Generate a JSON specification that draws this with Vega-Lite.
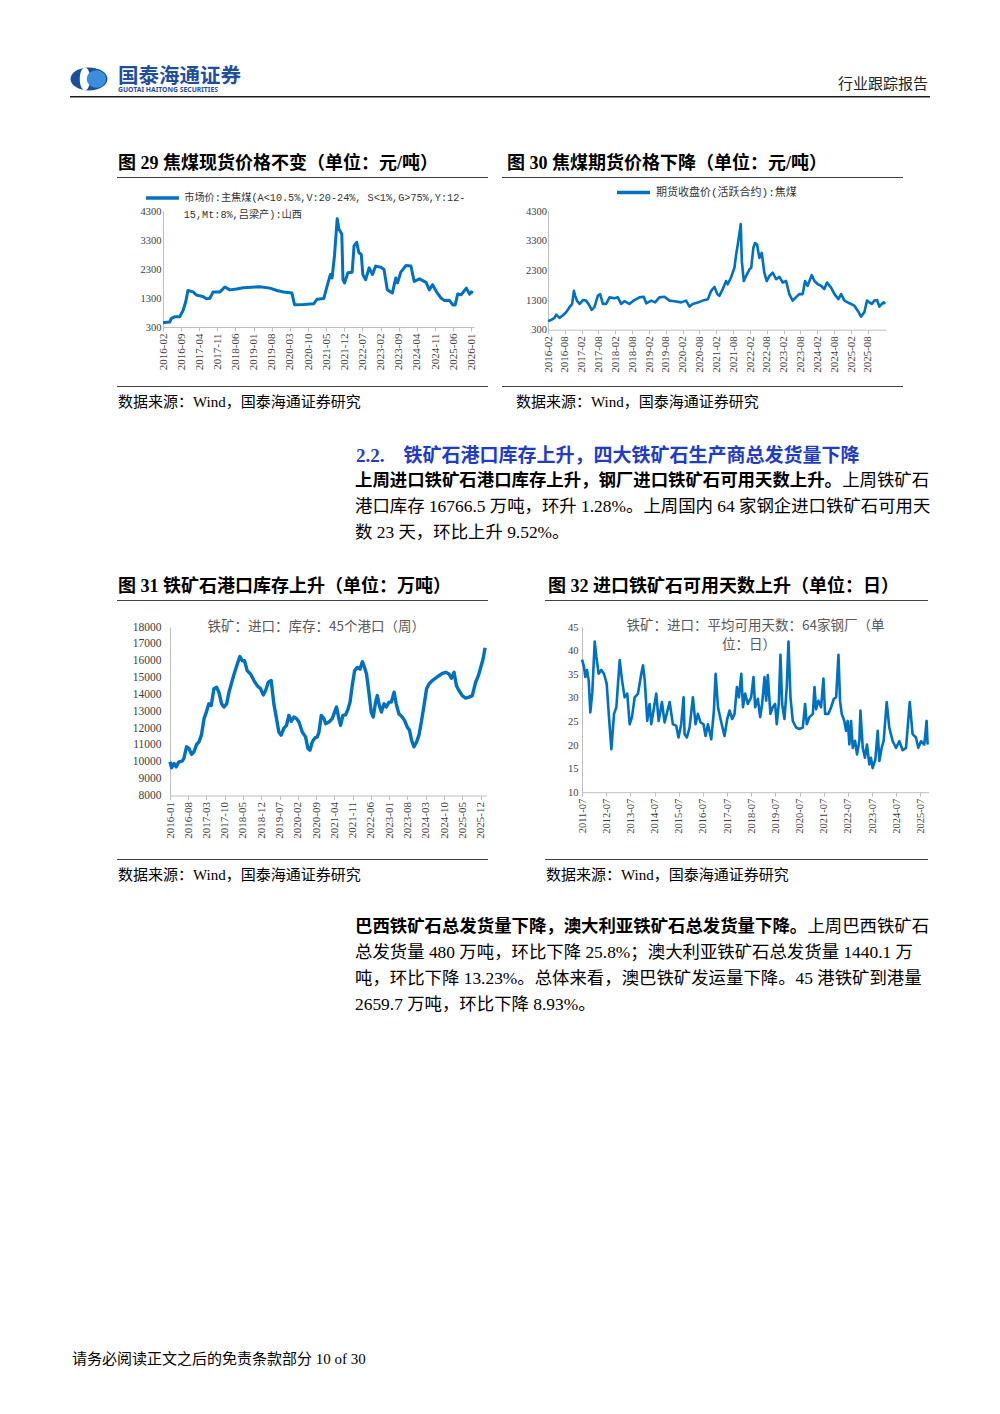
{
"$schema": "https://vega.github.io/schema/vega-lite/v6.json",
"background": "#ffffff",
"padding": 0,
"spacing": 0,
"bounds": "full",
"resolve": {"scale": {"color": "independent"}, "legend": {"color": "independent"}},
"config": {
  "view": {"stroke": null},
  "concat": {"spacing": 0},
  "axis": {"grid": false, "domainColor": "#bfbfbf", "domainWidth": 1, "tickColor": "#bfbfbf", "labelFont": "Liberation Serif", "labelColor": "#404040", "labelFlush": false, "labelOverlap": false},
  "axisX": {"tickSize": 4, "labelAngle": 270, "labelAlign": "right", "labelBaseline": "middle", "labelPadding": 2, "labelExpr": "utcFormat(datum.value, '%Y-%m')"},
  "axisY": {"ticks": false, "labelPadding": 3, "format": "d"},
  "legend": {"padding": 0, "labelLimit": 800, "titleLimit": 800, "symbolType": "stroke", "titleFontWeight": "normal", "labelColor": "#333333", "titleColor": "#333333", "rowPadding": 0, "offset": 0}
},
"datasets": {
  "c29": [
    {"d":"2016-02-01","v":450},{"d":"2016-03-15","v":460},{"d":"2016-04-20","v":470},{"d":"2016-05-07","v":590},{"d":"2016-06-15","v":650},{"d":"2016-08-15","v":650},{"d":"2016-09-25","v":880},{"d":"2016-10-25","v":1170},{"d":"2016-11-20","v":1560},{"d":"2017-01-20","v":1510},{"d":"2017-02-28","v":1400},{"d":"2017-05-15","v":1350},{"d":"2017-06-25","v":1270},{"d":"2017-08-05","v":1290},{"d":"2017-09-12","v":1510},{"d":"2017-12-01","v":1510},{"d":"2018-01-28","v":1680},{"d":"2018-03-28","v":1580},{"d":"2018-06-15","v":1610},{"d":"2018-09-01","v":1650},{"d":"2019-03-15","v":1690},{"d":"2019-07-12","v":1640},{"d":"2019-10-01","v":1560},{"d":"2019-12-18","v":1510},{"d":"2020-03-25","v":1470},{"d":"2020-04-25","v":1070},{"d":"2020-08-10","v":1080},{"d":"2020-12-05","v":1100},{"d":"2021-01-15","v":1260},{"d":"2021-04-03","v":1280},{"d":"2021-05-12","v":1700},{"d":"2021-06-20","v":2110},{"d":"2021-07-10","v":1990},{"d":"2021-08-07","v":2750},{"d":"2021-09-08","v":4030},{"d":"2021-09-28","v":3680},{"d":"2021-11-01","v":3510},{"d":"2021-11-15","v":1930},{"d":"2021-12-03","v":1820},{"d":"2022-01-12","v":2170},{"d":"2022-03-03","v":2190},{"d":"2022-03-25","v":3100},{"d":"2022-04-25","v":3220},{"d":"2022-05-20","v":2870},{"d":"2022-06-18","v":2800},{"d":"2022-07-06","v":2110},{"d":"2022-08-08","v":1930},{"d":"2022-09-18","v":2340},{"d":"2022-10-28","v":2110},{"d":"2022-12-03","v":2400},{"d":"2023-02-03","v":2360},{"d":"2023-03-12","v":2280},{"d":"2023-04-20","v":1580},{"d":"2023-06-18","v":1470},{"d":"2023-07-28","v":1990},{"d":"2023-08-18","v":1820},{"d":"2023-09-25","v":2190},{"d":"2023-11-25","v":2420},{"d":"2024-01-22","v":2400},{"d":"2024-03-01","v":1870},{"d":"2024-05-01","v":1960},{"d":"2024-07-18","v":1840},{"d":"2024-08-25","v":1580},{"d":"2024-10-03","v":1760},{"d":"2024-11-12","v":1540},{"d":"2025-01-12","v":1290},{"d":"2025-02-20","v":1210},{"d":"2025-04-18","v":1220},{"d":"2025-05-28","v":1060},{"d":"2025-06-25","v":1060},{"d":"2025-07-25","v":1440},{"d":"2025-09-03","v":1410},{"d":"2025-11-03","v":1640},{"d":"2025-12-12","v":1430},{"d":"2026-01-01","v":1510},{"d":"2026-01-20","v":1470}
  ],
  "c30": [
    {"d":"2016-02-01","v":590},{"d":"2016-03-07","v":630},{"d":"2016-04-12","v":700},{"d":"2016-04-30","v":810},{"d":"2016-06-05","v":700},{"d":"2016-07-10","v":780},{"d":"2016-08-16","v":890},{"d":"2016-09-22","v":1060},{"d":"2016-10-20","v":1170},{"d":"2016-11-08","v":1610},{"d":"2016-11-22","v":1440},{"d":"2016-12-14","v":1260},{"d":"2017-01-09","v":1170},{"d":"2017-02-15","v":1300},{"d":"2017-03-20","v":1280},{"d":"2017-04-15","v":1170},{"d":"2017-05-20","v":970},{"d":"2017-06-19","v":1060},{"d":"2017-07-25","v":1440},{"d":"2017-08-20","v":1500},{"d":"2017-09-18","v":1170},{"d":"2017-10-24","v":1170},{"d":"2017-11-30","v":1390},{"d":"2018-01-23","v":1360},{"d":"2018-02-28","v":1390},{"d":"2018-04-04","v":1170},{"d":"2018-05-10","v":1260},{"d":"2018-07-03","v":1170},{"d":"2018-08-27","v":1300},{"d":"2018-10-20","v":1390},{"d":"2018-12-06","v":1410},{"d":"2019-01-02","v":1190},{"d":"2019-02-25","v":1280},{"d":"2019-04-08","v":1220},{"d":"2019-05-24","v":1390},{"d":"2019-07-18","v":1410},{"d":"2019-09-11","v":1280},{"d":"2019-11-04","v":1260},{"d":"2020-01-16","v":1220},{"d":"2020-03-09","v":1280},{"d":"2020-04-15","v":1080},{"d":"2020-05-20","v":1170},{"d":"2020-07-14","v":1220},{"d":"2020-09-07","v":1280},{"d":"2020-11-01","v":1330},{"d":"2020-12-06","v":1610},{"d":"2021-01-12","v":1740},{"d":"2021-02-10","v":1500},{"d":"2021-03-05","v":1440},{"d":"2021-04-11","v":1670},{"d":"2021-05-17","v":1940},{"d":"2021-06-04","v":1830},{"d":"2021-07-10","v":2060},{"d":"2021-08-16","v":2390},{"d":"2021-09-03","v":2830},{"d":"2021-09-21","v":3170},{"d":"2021-10-12","v":3610},{"d":"2021-10-23","v":3860},{"d":"2021-11-04","v":2610},{"d":"2021-11-25","v":1940},{"d":"2021-12-20","v":2110},{"d":"2022-01-26","v":2330},{"d":"2022-02-14","v":2390},{"d":"2022-03-09","v":3060},{"d":"2022-03-27","v":3220},{"d":"2022-04-18","v":3170},{"d":"2022-05-13","v":2720},{"d":"2022-06-08","v":2890},{"d":"2022-07-06","v":2220},{"d":"2022-08-01","v":1940},{"d":"2022-08-30","v":2110},{"d":"2022-10-05","v":2220},{"d":"2022-11-11","v":2000},{"d":"2022-12-16","v":2080},{"d":"2023-01-22","v":1890},{"d":"2023-02-27","v":1940},{"d":"2023-04-03","v":1500},{"d":"2023-05-09","v":1280},{"d":"2023-06-14","v":1390},{"d":"2023-07-20","v":1500},{"d":"2023-08-26","v":1500},{"d":"2023-09-21","v":1940},{"d":"2023-10-19","v":1780},{"d":"2023-12-02","v":2140},{"d":"2024-01-01","v":1940},{"d":"2024-02-06","v":1830},{"d":"2024-03-12","v":1780},{"d":"2024-04-17","v":1670},{"d":"2024-05-16","v":1890},{"d":"2024-06-29","v":1720},{"d":"2024-08-05","v":1500},{"d":"2024-09-17","v":1330},{"d":"2024-10-16","v":1500},{"d":"2024-11-21","v":1280},{"d":"2025-01-15","v":1190},{"d":"2025-03-09","v":1110},{"d":"2025-04-14","v":940},{"d":"2025-05-20","v":740},{"d":"2025-06-25","v":890},{"d":"2025-07-24","v":1280},{"d":"2025-08-19","v":1220},{"d":"2025-09-14","v":1170},{"d":"2025-10-12","v":1280},{"d":"2025-11-10","v":1300},{"d":"2025-12-05","v":1080},{"d":"2026-01-01","v":1170},{"d":"2026-01-22","v":1220},{"d":"2026-02-06","v":1170}
  ],
  "c31": [
    {"d":"2016-01-01","v":10000},{"d":"2016-01-20","v":9650},{"d":"2016-02-16","v":9900},{"d":"2016-03-13","v":9700},{"d":"2016-04-14","v":10000},{"d":"2016-05-22","v":10040},{"d":"2016-06-11","v":10200},{"d":"2016-07-12","v":10890},{"d":"2016-08-09","v":10790},{"d":"2016-09-09","v":10440},{"d":"2016-10-06","v":10590},{"d":"2016-11-07","v":11030},{"d":"2016-12-04","v":11180},{"d":"2017-01-01","v":11580},{"d":"2017-02-01","v":12560},{"d":"2017-02-28","v":12950},{"d":"2017-03-29","v":13440},{"d":"2017-04-26","v":13340},{"d":"2017-05-27","v":14330},{"d":"2017-06-27","v":14420},{"d":"2017-07-24","v":14130},{"d":"2017-08-25","v":13440},{"d":"2017-09-21","v":13250},{"d":"2017-10-22","v":13440},{"d":"2017-11-19","v":14130},{"d":"2017-12-27","v":14820},{"d":"2018-01-24","v":15310},{"d":"2018-02-24","v":15800},{"d":"2018-03-26","v":16250},{"d":"2018-04-22","v":16000},{"d":"2018-05-19","v":16000},{"d":"2018-06-19","v":15410},{"d":"2018-07-28","v":15210},{"d":"2018-09-06","v":14820},{"d":"2018-10-14","v":14520},{"d":"2018-11-23","v":14330},{"d":"2018-12-24","v":13970},{"d":"2019-01-20","v":14230},{"d":"2019-02-20","v":14720},{"d":"2019-03-26","v":14820},{"d":"2019-04-26","v":13440},{"d":"2019-05-27","v":12560},{"d":"2019-06-23","v":11770},{"d":"2019-07-20","v":11580},{"d":"2019-08-21","v":12000},{"d":"2019-09-21","v":12160},{"d":"2019-10-18","v":12750},{"d":"2019-11-15","v":12400},{"d":"2019-12-16","v":12660},{"d":"2020-01-16","v":12560},{"d":"2020-02-13","v":12360},{"d":"2020-03-22","v":11770},{"d":"2020-04-30","v":11480},{"d":"2020-05-27","v":10790},{"d":"2020-06-20","v":10690},{"d":"2020-07-17","v":11180},{"d":"2020-08-18","v":11420},{"d":"2020-09-14","v":11480},{"d":"2020-10-03","v":11770},{"d":"2020-10-30","v":12750},{"d":"2020-12-01","v":12560},{"d":"2020-12-20","v":12260},{"d":"2021-01-28","v":12360},{"d":"2021-03-07","v":12560},{"d":"2021-04-03","v":12950},{"d":"2021-04-26","v":13250},{"d":"2021-05-23","v":12560},{"d":"2021-06-12","v":12160},{"d":"2021-07-09","v":12750},{"d":"2021-08-10","v":12790},{"d":"2021-09-06","v":13110},{"d":"2021-09-30","v":13540},{"d":"2021-10-26","v":14520},{"d":"2021-11-23","v":15410},{"d":"2021-12-24","v":15600},{"d":"2022-01-25","v":15500},{"d":"2022-02-21","v":15940},{"d":"2022-03-18","v":15600},{"d":"2022-04-11","v":15210},{"d":"2022-05-08","v":14130},{"d":"2022-06-04","v":12950},{"d":"2022-06-28","v":12660},{"d":"2022-07-25","v":13540},{"d":"2022-08-14","v":13930},{"d":"2022-09-07","v":13340},{"d":"2022-10-01","v":12950},{"d":"2022-11-01","v":13440},{"d":"2022-11-28","v":13250},{"d":"2022-12-29","v":13540},{"d":"2023-01-25","v":13540},{"d":"2023-02-26","v":14130},{"d":"2023-03-23","v":13440},{"d":"2023-04-23","v":12850},{"d":"2023-06-01","v":12660},{"d":"2023-06-28","v":12460},{"d":"2023-07-29","v":12070},{"d":"2023-08-25","v":11870},{"d":"2023-09-18","v":11280},{"d":"2023-10-15","v":10890},{"d":"2023-11-16","v":11180},{"d":"2023-12-13","v":11580},{"d":"2024-01-10","v":12360},{"d":"2024-02-10","v":13340},{"d":"2024-03-11","v":14330},{"d":"2024-04-08","v":14620},{"d":"2024-05-16","v":14820},{"d":"2024-06-24","v":14960},{"d":"2024-08-03","v":15110},{"d":"2024-09-11","v":15250},{"d":"2024-10-19","v":15310},{"d":"2024-11-28","v":15210},{"d":"2024-12-25","v":14960},{"d":"2025-01-25","v":15310},{"d":"2025-02-22","v":14520},{"d":"2025-03-23","v":14230},{"d":"2025-05-01","v":13930},{"d":"2025-06-09","v":13780},{"d":"2025-07-18","v":13840},{"d":"2025-08-26","v":13930},{"d":"2025-10-04","v":14720},{"d":"2025-11-05","v":15110},{"d":"2025-12-02","v":15600},{"d":"2025-12-29","v":16090},{"d":"2026-01-22","v":16766.5}
  ],
  "c32": [
    {"d":"2011-07-01","v":38.1},{"d":"2011-07-31","v":36.6},{"d":"2011-08-20","v":34.4},{"d":"2011-09-15","v":35.9},{"d":"2011-10-10","v":33.7},{"d":"2011-11-04","v":26.9},{"d":"2011-12-04","v":31.2},{"d":"2012-01-09","v":41.9},{"d":"2012-02-03","v":38.7},{"d":"2012-03-08","v":35.1},{"d":"2012-04-18","v":35.9},{"d":"2012-05-28","v":35.1},{"d":"2012-07-08","v":33.0},{"d":"2012-08-12","v":25.9},{"d":"2012-09-17","v":19.1},{"d":"2012-10-27","v":26.6},{"d":"2012-12-01","v":28.0},{"d":"2012-12-26","v":33.0},{"d":"2013-01-21","v":38.0},{"d":"2013-02-25","v":33.7},{"d":"2013-04-05","v":30.1},{"d":"2013-05-15","v":30.9},{"d":"2013-06-20","v":24.4},{"d":"2013-07-25","v":25.9},{"d":"2013-09-04","v":30.1},{"d":"2013-10-24","v":30.9},{"d":"2013-12-13","v":35.1},{"d":"2014-01-08","v":36.9},{"d":"2014-02-03","v":33.7},{"d":"2014-03-13","v":25.1},{"d":"2014-04-17","v":28.7},{"d":"2014-05-12","v":24.4},{"d":"2014-07-27","v":30.9},{"d":"2014-09-01","v":25.1},{"d":"2014-10-21","v":29.1},{"d":"2014-11-30","v":24.8},{"d":"2015-02-14","v":29.1},{"d":"2015-04-04","v":24.4},{"d":"2015-05-24","v":24.1},{"d":"2015-06-28","v":21.6},{"d":"2015-08-08","v":24.4},{"d":"2015-09-13","v":30.1},{"d":"2015-09-28","v":22.3},{"d":"2015-11-02","v":21.6},{"d":"2015-12-12","v":23.7},{"d":"2016-02-01","v":30.1},{"d":"2016-03-11","v":24.4},{"d":"2016-04-16","v":26.6},{"d":"2016-05-26","v":24.8},{"d":"2016-07-10","v":24.4},{"d":"2016-08-10","v":21.9},{"d":"2016-09-15","v":24.4},{"d":"2016-11-04","v":21.2},{"d":"2016-12-14","v":27.3},{"d":"2017-01-09","v":35.1},{"d":"2017-02-14","v":28.0},{"d":"2017-03-24","v":25.5},{"d":"2017-05-23","v":21.9},{"d":"2017-07-03","v":25.5},{"d":"2017-08-08","v":27.3},{"d":"2017-09-17","v":25.5},{"d":"2017-10-22","v":26.6},{"d":"2017-11-27","v":32.3},{"d":"2017-12-27","v":30.1},{"d":"2018-02-01","v":35.1},{"d":"2018-02-26","v":28.0},{"d":"2018-03-31","v":30.9},{"d":"2018-05-10","v":28.7},{"d":"2018-06-30","v":30.1},{"d":"2018-08-04","v":34.4},{"d":"2018-08-29","v":28.0},{"d":"2018-10-09","v":29.8},{"d":"2018-11-13","v":25.9},{"d":"2018-12-13","v":28.7},{"d":"2019-01-18","v":34.4},{"d":"2019-02-12","v":29.4},{"d":"2019-03-08","v":34.8},{"d":"2019-04-17","v":26.6},{"d":"2019-05-22","v":28.0},{"d":"2019-06-27","v":28.7},{"d":"2019-07-22","v":24.4},{"d":"2019-08-21","v":28.7},{"d":"2019-09-16","v":39.1},{"d":"2019-10-11","v":28.7},{"d":"2019-11-15","v":25.5},{"d":"2019-12-20","v":32.3},{"d":"2020-01-15","v":41.9},{"d":"2020-02-14","v":30.1},{"d":"2020-03-20","v":25.1},{"d":"2020-05-09","v":23.7},{"d":"2020-06-28","v":23.4},{"d":"2020-08-18","v":23.7},{"d":"2020-09-22","v":28.7},{"d":"2020-10-17","v":24.4},{"d":"2020-11-27","v":25.9},{"d":"2021-01-17","v":26.6},{"d":"2021-02-11","v":32.3},{"d":"2021-03-07","v":27.6},{"d":"2021-04-12","v":29.4},{"d":"2021-05-21","v":28.0},{"d":"2021-06-26","v":34.1},{"d":"2021-07-21","v":26.6},{"d":"2021-09-10","v":26.6},{"d":"2021-10-20","v":28.0},{"d":"2021-11-30","v":29.8},{"d":"2022-01-04","v":30.1},{"d":"2022-02-08","v":39.1},{"d":"2022-03-04","v":29.4},{"d":"2022-03-29","v":26.6},{"d":"2022-05-08","v":25.1},{"d":"2022-06-03","v":23.0},{"d":"2022-06-28","v":25.1},{"d":"2022-07-23","v":20.1},{"d":"2022-08-17","v":25.1},{"d":"2022-09-12","v":19.4},{"d":"2022-10-17","v":20.9},{"d":"2022-11-16","v":18.0},{"d":"2022-12-21","v":20.9},{"d":"2023-01-06","v":27.3},{"d":"2023-02-10","v":19.4},{"d":"2023-03-15","v":17.3},{"d":"2023-04-15","v":20.1},{"d":"2023-05-20","v":15.9},{"d":"2023-06-14","v":17.3},{"d":"2023-07-09","v":15.1},{"d":"2023-08-19","v":16.9},{"d":"2023-09-24","v":23.0},{"d":"2023-10-19","v":16.6},{"d":"2023-11-23","v":19.4},{"d":"2023-12-23","v":20.9},{"d":"2024-02-07","v":29.1},{"d":"2024-03-17","v":23.7},{"d":"2024-05-07","v":20.8},{"d":"2024-06-27","v":19.4},{"d":"2024-08-16","v":20.8},{"d":"2024-10-05","v":18.9},{"d":"2024-11-25","v":19.4},{"d":"2025-01-20","v":29.1},{"d":"2025-03-04","v":22.3},{"d":"2025-04-24","v":21.6},{"d":"2025-05-29","v":19.4},{"d":"2025-07-09","v":20.8},{"d":"2025-08-28","v":20.1},{"d":"2025-10-02","v":25.1},{"d":"2025-10-17","v":20.1}
  ],
  "p1": [
    {"line":0,"b":"上周进口铁矿石港口库存上升，钢厂进口铁矿石可用天数上升。","r":"上周铁矿石","t":""},
    {"line":1,"b":"","r":"","t":"港口库存 16766.5 万吨，环升 1.28%。上周国内 64 家钢企进口铁矿石可用天"},
    {"line":2,"b":"","r":"","t":"数 23 天，环比上升 9.52%。"}
  ],
  "p2": [
    {"line":0,"b":"巴西铁矿石总发货量下降，澳大利亚铁矿石总发货量下降。","r":"上周巴西铁矿石","t":""},
    {"line":1,"b":"","r":"","t":"总发货量 480 万吨，环比下降 25.8%；澳大利亚铁矿石总发货量 1440.1 万"},
    {"line":2,"b":"","r":"","t":"吨，环比下降 13.23%。总体来看，澳巴铁矿发运量下降。45 港铁矿到港量"},
    {"line":3,"b":"","r":"","t":"2659.7 万吨，环比下降 8.93%。"}
  ],
  "brand": [
    {"line":0,"t":"国泰海通证券"},
    {"line":1,"t":"GUOTAI HAITONG SECURITIES"}
  ]
},
"vconcat": [
  {"width": 1000, "height": 65.25, "data": {"values": []}, "mark": "point"},
  {"hconcat": [
    {"width": 69, "height": 26, "data": {"values": []}, "mark": "point"},
    {"width": 40, "height": 18, "data": {"values": [{"k": "logo"}]}, "layer": [
      {"mark": {"type": "point", "shape": "M-1,0A1,0.62,0,1,1,1,0A1,0.62,0,1,1,-1,0Z", "size": 1369, "filled": true, "color": "#1b4f9c", "opacity": 1, "strokeWidth": 0}},
      {"mark": {"type": "point", "shape": "M-0.5,0A0.28,0.62,0,1,1,0.06,0A0.28,0.62,0,1,1,-0.5,0Z", "size": 1369, "filled": true, "color": "#ffffff", "opacity": 1, "strokeWidth": 0}},
      {"mark": {"type": "point", "shape": "M-0.12,0A0.52,0.47,0,1,1,0.92,0A0.52,0.47,0,1,1,-0.12,0Z", "size": 1369, "filled": true, "color": "#3b8edb", "opacity": 1, "strokeWidth": 0}}
    ]},
    {"width": 9, "height": 26, "data": {"values": []}, "mark": "point"},
    {"width": 130, "height": 26, "data": {"name": "brand"},
     "encoding": {"x": {"datum": 0, "type": "quantitative", "scale": {"domain": [0, 1]}, "axis": null}, "y": {"field": "line", "type": "ordinal", "scale": {"type": "point", "padding": 0.5}, "axis": null}, "text": {"field": "t"}},
     "layer": [
       {"transform": [{"filter": "datum.line == 0"}], "mark": {"type": "text", "align": "left", "baseline": "middle", "font": "Noto Sans CJK SC", "fontSize": 20.5, "fontWeight": "bold", "color": "#1f4e9c"}},
       {"transform": [{"filter": "datum.line == 1"}], "mark": {"type": "text", "align": "left", "baseline": "middle", "font": "Noto Sans", "fontSize": 6.8, "fontWeight": "bold", "color": "#1f4e9c"}}
     ]},
    {"width": 580, "height": 26, "data": {"values": []}, "mark": "point"},
    {"width": 100, "height": 13, "data": {"values": [{"t": "行业跟踪报告"}]}, "mark": {"type": "text", "align": "right", "baseline": "top", "font": "Noto Sans CJK SC", "fontSize": 15, "color": "#222222"}, "encoding": {"x": {"datum": 1, "type": "quantitative", "scale": {"domain": [0, 1]}, "axis": null}, "text": {"field": "t"}}}
  ], "spacing": 0, "bounds": "flush"},
  {"hconcat": [
    {"width": 70, "height": 1.5, "data": {"values": []}, "mark": "point"},
    {"width": 860, "height": 1.5, "data": {"values": []}, "mark": "point", "view": {"fill": "#1a1a1a"}}
  ], "spacing": 0, "bounds": "flush"},
  {"width": 1, "height": 53.5, "data": {"values": []}, "mark": "point"},
  {"hconcat": [
    {"width": 118, "height": 24.5, "data": {"values": []}, "mark": "point"},
    {"width": 369, "height": 24.5, "data": {"values": [{"t": "图 29 焦煤现货价格不变（单位：元/吨）"}]}, "mark": {"type": "text", "align": "left", "baseline": "middle", "font": "Liberation Serif, Noto Sans CJK SC", "fontSize": 18, "fontWeight": "bold", "color": "#000000"}, "encoding": {"x": {"datum": 0, "type": "quantitative", "scale": {"domain": [0, 1]}, "axis": null}, "text": {"field": "t"}}},
    {"width": 20, "height": 24.5, "data": {"values": []}, "mark": "point"},
    {"width": 400, "height": 24.5, "data": {"values": [{"t": "图 30 焦煤期货价格下降（单位：元/吨）"}]}, "mark": {"type": "text", "align": "left", "baseline": "middle", "font": "Liberation Serif, Noto Sans CJK SC", "fontSize": 18, "fontWeight": "bold", "color": "#000000"}, "encoding": {"x": {"datum": 0, "type": "quantitative", "scale": {"domain": [0, 1]}, "axis": null}, "text": {"field": "t"}}}
  ], "spacing": 0, "bounds": "flush"},
  {"hconcat": [
    {"width": 117, "height": 1, "data": {"values": []}, "mark": "point"},
    {"width": 371, "height": 1, "data": {"values": []}, "mark": "point", "view": {"fill": "#404040"}},
    {"width": 14, "height": 1, "data": {"values": []}, "mark": "point"},
    {"width": 401, "height": 1, "data": {"values": []}, "mark": "point", "view": {"fill": "#404040"}}
  ], "spacing": 0, "bounds": "flush"},
  {"width": 1, "height": 6.5, "data": {"values": []}, "mark": "point"},
  {"hconcat": [
    {"width": 162.3, "height": 174.5, "data": {"values": []}, "mark": "point"},
    {"width": 311, "height": 116, "data": {"name": "c29"},
     "mark": {"type": "line", "strokeWidth": 3, "strokeJoin": "round"},
     "encoding": {
       "x": {"field": "d", "type": "temporal", "title": null,
         "scale": {"type": "utc", "domain": [{"year": 2016, "month": 2, "date": 1, "utc": true}, {"year": 2026, "month": 2, "date": 1, "utc": true}]},
         "axis": {"labelFontSize": 11, "values": [
           {"year": 2016, "month": 2, "date": 1, "utc": true},{"year": 2016, "month": 9, "date": 1, "utc": true},{"year": 2017, "month": 4, "date": 1, "utc": true},{"year": 2017, "month": 11, "date": 1, "utc": true},{"year": 2018, "month": 6, "date": 1, "utc": true},{"year": 2019, "month": 1, "date": 1, "utc": true},{"year": 2019, "month": 8, "date": 1, "utc": true},{"year": 2020, "month": 3, "date": 1, "utc": true},{"year": 2020, "month": 10, "date": 1, "utc": true},{"year": 2021, "month": 5, "date": 1, "utc": true},{"year": 2021, "month": 12, "date": 1, "utc": true},{"year": 2022, "month": 7, "date": 1, "utc": true},{"year": 2023, "month": 2, "date": 1, "utc": true},{"year": 2023, "month": 9, "date": 1, "utc": true},{"year": 2024, "month": 4, "date": 1, "utc": true},{"year": 2024, "month": 11, "date": 1, "utc": true},{"year": 2025, "month": 6, "date": 1, "utc": true},{"year": 2026, "month": 1, "date": 1, "utc": true}]}},
       "y": {"field": "v", "type": "quantitative", "title": null, "scale": {"domain": [300, 4300]}, "axis": {"values": [300, 1300, 2300, 3300, 4300], "labelFontSize": 10.5, "labelPadding": 2}},
       "color": {"datum": "市场价:主焦煤(A<10.5%,V:20-24%, S<1%,G>75%,Y:12-", "type": "nominal", "scale": {"range": ["#0070c0"]},
         "legend": {"orient": "none", "legendX": 20.7, "legendY": -20.5, "title": "15,Mt:8%,吕梁产):山西", "titleOrient": "bottom", "titleAnchor": "start", "symbolType": "M-8.23,0H-2.23", "symbolSize": 121, "symbolStrokeWidth": 3.5, "labelOffset": -14.5, "labelFont": "Liberation Mono, Noto Sans CJK SC", "titleFont": "Liberation Mono, Noto Sans CJK SC", "labelFontSize": 10.2, "titleFontSize": 10.2, "titlePadding": 4}}
     }},
    {"width": 73.4, "height": 174.5, "data": {"values": []}, "mark": "point"},
    {"width": 338, "height": 118.7, "data": {"name": "c30"},
     "mark": {"type": "line", "strokeWidth": 2.6, "strokeJoin": "round"},
     "encoding": {
       "x": {"field": "d", "type": "temporal", "title": null,
         "scale": {"type": "utc", "domain": [{"year": 2016, "month": 2, "date": 1, "utc": true}, {"year": 2026, "month": 2, "date": 15, "utc": true}]},
         "axis": {"labelFontSize": 11, "values": [
           {"year": 2016, "month": 2, "date": 1, "utc": true},{"year": 2016, "month": 8, "date": 1, "utc": true},{"year": 2017, "month": 2, "date": 1, "utc": true},{"year": 2017, "month": 8, "date": 1, "utc": true},{"year": 2018, "month": 2, "date": 1, "utc": true},{"year": 2018, "month": 8, "date": 1, "utc": true},{"year": 2019, "month": 2, "date": 1, "utc": true},{"year": 2019, "month": 8, "date": 1, "utc": true},{"year": 2020, "month": 2, "date": 1, "utc": true},{"year": 2020, "month": 8, "date": 1, "utc": true},{"year": 2021, "month": 2, "date": 1, "utc": true},{"year": 2021, "month": 8, "date": 1, "utc": true},{"year": 2022, "month": 2, "date": 1, "utc": true},{"year": 2022, "month": 8, "date": 1, "utc": true},{"year": 2023, "month": 2, "date": 1, "utc": true},{"year": 2023, "month": 8, "date": 1, "utc": true},{"year": 2024, "month": 2, "date": 1, "utc": true},{"year": 2024, "month": 8, "date": 1, "utc": true},{"year": 2025, "month": 2, "date": 1, "utc": true},{"year": 2025, "month": 8, "date": 1, "utc": true}]}},
       "y": {"field": "v", "type": "quantitative", "title": null, "scale": {"domain": [300, 4300]}, "axis": {"values": [300, 1300, 2300, 3300, 4300], "labelFontSize": 10.5, "labelPadding": 1.5}},
       "color": {"datum": "期货收盘价(活跃合约):焦煤", "type": "nominal", "scale": {"range": ["#0070c0"]},
         "legend": {"orient": "none", "legendX": 67, "legendY": -26, "title": null, "symbolType": "M-1,0H5", "symbolSize": 121, "symbolStrokeWidth": 3.5, "labelOffset": 26, "labelFont": "Liberation Mono, Noto Sans CJK SC", "labelFontSize": 11}}
     }}
  ], "spacing": 0, "bounds": "flush", "resolve": {"scale": {"color": "independent"}, "legend": {"color": "independent"}}},
  {"hconcat": [
    {"width": 117, "height": 1, "data": {"values": []}, "mark": "point"},
    {"width": 371, "height": 1, "data": {"values": []}, "mark": "point", "view": {"fill": "#404040"}},
    {"width": 14, "height": 1, "data": {"values": []}, "mark": "point"},
    {"width": 401, "height": 1, "data": {"values": []}, "mark": "point", "view": {"fill": "#404040"}}
  ], "spacing": 0, "bounds": "flush"},
  {"width": 1, "height": 5.5, "data": {"values": []}, "mark": "point"},
  {"hconcat": [
    {"width": 118, "height": 18, "data": {"values": []}, "mark": "point"},
    {"width": 370, "height": 18, "data": {"values": [{"t": "数据来源：Wind，国泰海通证券研究"}]}, "mark": {"type": "text", "align": "left", "baseline": "middle", "font": "Liberation Serif, Noto Sans CJK SC", "fontSize": 15, "color": "#000000"}, "encoding": {"x": {"datum": 0, "type": "quantitative", "scale": {"domain": [0, 1]}, "axis": null}, "text": {"field": "t"}}},
    {"width": 28, "height": 18, "data": {"values": []}, "mark": "point"},
    {"width": 400, "height": 18, "data": {"values": [{"t": "数据来源：Wind，国泰海通证券研究"}]}, "mark": {"type": "text", "align": "left", "baseline": "middle", "font": "Liberation Serif, Noto Sans CJK SC", "fontSize": 15, "color": "#000000"}, "encoding": {"x": {"datum": 0, "type": "quantitative", "scale": {"domain": [0, 1]}, "axis": null}, "text": {"field": "t"}}}
  ], "spacing": 0, "bounds": "flush"},
  {"width": 1, "height": 32, "data": {"values": []}, "mark": "point"},
  {"hconcat": [
    {"width": 356, "height": 25, "data": {"values": []}, "mark": "point"},
    {"width": 580, "height": 25, "data": {"values": [{"t": "2.2.\u3000铁矿石港口库存上升，四大铁矿石生产商总发货量下降"}]}, "mark": {"type": "text", "align": "left", "baseline": "middle", "font": "Liberation Serif, Noto Sans CJK SC", "fontSize": 19, "fontWeight": "bold", "color": "#1e3cc8"}, "encoding": {"x": {"datum": 0, "type": "quantitative", "scale": {"domain": [0, 1]}, "axis": null}, "text": {"field": "t"}}}
  ], "spacing": 0, "bounds": "flush"},
  {"hconcat": [
    {"width": 355, "height": 78, "data": {"values": []}, "mark": "point"},
    {"width": 574.2, "height": 78, "data": {"name": "p1"},
     "encoding": {"y": {"field": "line", "type": "ordinal", "scale": {"type": "point", "padding": 0.5}, "axis": null}},
     "layer": [
       {"mark": {"type": "text", "align": "left", "baseline": "middle", "font": "Liberation Serif, Noto Sans CJK SC", "fontSize": 17.4, "fontWeight": "bold", "color": "#000000"}, "encoding": {"x": {"datum": 0, "type": "quantitative", "scale": {"domain": [0, 33]}, "axis": null}, "text": {"field": "b"}}},
       {"mark": {"type": "text", "align": "left", "baseline": "middle", "font": "Liberation Serif, Noto Sans CJK SC", "fontSize": 17.4, "color": "#000000"}, "encoding": {"x": {"datum": 28, "type": "quantitative", "scale": {"domain": [0, 33]}, "axis": null}, "text": {"field": "r"}}},
       {"mark": {"type": "text", "align": "left", "baseline": "middle", "font": "Liberation Serif, Noto Sans CJK SC", "fontSize": 17.4, "color": "#000000"}, "encoding": {"x": {"datum": 0, "type": "quantitative", "scale": {"domain": [0, 33]}, "axis": null}, "text": {"field": "t"}}}
     ]}
  ], "spacing": 0, "bounds": "flush"},
  {"width": 1, "height": 29, "data": {"values": []}, "mark": "point"},
  {"hconcat": [
    {"width": 118, "height": 24.5, "data": {"values": []}, "mark": "point"},
    {"width": 400, "height": 24.5, "data": {"values": [{"t": "图 31 铁矿石港口库存上升（单位：万吨）"}]}, "mark": {"type": "text", "align": "left", "baseline": "middle", "font": "Liberation Serif, Noto Sans CJK SC", "fontSize": 18, "fontWeight": "bold", "color": "#000000"}, "encoding": {"x": {"datum": 0, "type": "quantitative", "scale": {"domain": [0, 1]}, "axis": null}, "text": {"field": "t"}}},
    {"width": 30, "height": 24.5, "data": {"values": []}, "mark": "point"},
    {"width": 380, "height": 24.5, "data": {"values": [{"t": "图 32 进口铁矿石可用天数上升（单位：日）"}]}, "mark": {"type": "text", "align": "left", "baseline": "middle", "font": "Liberation Serif, Noto Sans CJK SC", "fontSize": 18, "fontWeight": "bold", "color": "#000000"}, "encoding": {"x": {"datum": 0, "type": "quantitative", "scale": {"domain": [0, 1]}, "axis": null}, "text": {"field": "t"}}}
  ], "spacing": 0, "bounds": "flush"},
  {"hconcat": [
    {"width": 117, "height": 1, "data": {"values": []}, "mark": "point"},
    {"width": 371, "height": 1, "data": {"values": []}, "mark": "point", "view": {"fill": "#404040"}},
    {"width": 57, "height": 1, "data": {"values": []}, "mark": "point"},
    {"width": 383, "height": 1, "data": {"values": []}, "mark": "point", "view": {"fill": "#404040"}}
  ], "spacing": 0, "bounds": "flush"},
  {"width": 1, "height": 18, "data": {"values": []}, "mark": "point"},
  {"hconcat": [
    {"width": 169.3, "height": 231.5, "data": {"values": []}, "mark": "point"},
    {"width": 316.7, "height": 168.5, "data": {"name": "c31"},
     "mark": {"type": "line", "strokeWidth": 3.4, "strokeJoin": "round"},
     "encoding": {
       "x": {"field": "d", "type": "temporal", "title": null,
         "scale": {"type": "utc", "domain": [{"year": 2016, "month": 1, "date": 1, "utc": true}, {"year": 2026, "month": 2, "date": 10, "utc": true}]},
         "axis": {"labelFontSize": 11, "values": [
           {"year": 2016, "month": 1, "date": 1, "utc": true},{"year": 2016, "month": 8, "date": 1, "utc": true},{"year": 2017, "month": 3, "date": 1, "utc": true},{"year": 2017, "month": 10, "date": 1, "utc": true},{"year": 2018, "month": 5, "date": 1, "utc": true},{"year": 2018, "month": 12, "date": 1, "utc": true},{"year": 2019, "month": 7, "date": 1, "utc": true},{"year": 2020, "month": 2, "date": 1, "utc": true},{"year": 2020, "month": 9, "date": 1, "utc": true},{"year": 2021, "month": 4, "date": 1, "utc": true},{"year": 2021, "month": 11, "date": 1, "utc": true},{"year": 2022, "month": 6, "date": 1, "utc": true},{"year": 2023, "month": 1, "date": 1, "utc": true},{"year": 2023, "month": 8, "date": 1, "utc": true},{"year": 2024, "month": 3, "date": 1, "utc": true},{"year": 2024, "month": 10, "date": 1, "utc": true},{"year": 2025, "month": 5, "date": 1, "utc": true},{"year": 2025, "month": 12, "date": 1, "utc": true}]}},
       "y": {"field": "v", "type": "quantitative", "title": null, "scale": {"domain": [8000, 18000]}, "axis": {"values": [8000, 9000, 10000, 11000, 12000, 13000, 14000, 15000, 16000, 17000, 18000], "labelFontSize": 11.5, "labelPadding": 9}},
       "color": {"datum": "铁矿：进口：库存：45个港口（周）", "type": "nominal", "scale": {"range": ["#0070c0"]},
         "legend": {"orient": "none", "legendX": 24, "legendY": -7, "title": null, "symbolSize": 0, "symbolStrokeWidth": 0, "symbolOpacity": 0, "labelOffset": 0, "labelFont": "Noto Sans CJK SC", "labelFontSize": 13.5, "labelColor": "#595959"}}
     }},
    {"width": 94.7, "height": 231.5, "data": {"values": []}, "mark": "point"},
    {"width": 346.6, "height": 165.2, "data": {"name": "c32"},
     "mark": {"type": "line", "strokeWidth": 2.6, "strokeJoin": "round"},
     "encoding": {
       "x": {"field": "d", "type": "temporal", "title": null,
         "scale": {"type": "utc", "domain": [{"year": 2011, "month": 7, "date": 1, "utc": true}, {"year": 2025, "month": 11, "date": 1, "utc": true}]},
         "axis": {"labelFontSize": 10.5, "values": [
           {"year": 2011, "month": 7, "date": 1, "utc": true},{"year": 2012, "month": 7, "date": 1, "utc": true},{"year": 2013, "month": 7, "date": 1, "utc": true},{"year": 2014, "month": 7, "date": 1, "utc": true},{"year": 2015, "month": 7, "date": 1, "utc": true},{"year": 2016, "month": 7, "date": 1, "utc": true},{"year": 2017, "month": 7, "date": 1, "utc": true},{"year": 2018, "month": 7, "date": 1, "utc": true},{"year": 2019, "month": 7, "date": 1, "utc": true},{"year": 2020, "month": 7, "date": 1, "utc": true},{"year": 2021, "month": 7, "date": 1, "utc": true},{"year": 2022, "month": 7, "date": 1, "utc": true},{"year": 2023, "month": 7, "date": 1, "utc": true},{"year": 2024, "month": 7, "date": 1, "utc": true},{"year": 2025, "month": 7, "date": 1, "utc": true}]}},
       "y": {"field": "v", "type": "quantitative", "title": null, "scale": {"domain": [10, 45]}, "axis": {"values": [10, 15, 20, 25, 30, 35, 40, 45], "labelFontSize": 10.5, "labelPadding": 4}},
       "color": {"datum": "铁矿：进口：平均可用天数：64家钢厂（单", "type": "nominal", "scale": {"range": ["#0070c0"]},
         "legend": {"orient": "none", "legendX": 31, "legendY": -8, "title": "位：日）", "titleOrient": "bottom", "titleAnchor": "middle", "titlePadding": 6, "symbolSize": 0, "symbolStrokeWidth": 0, "symbolOpacity": 0, "labelOffset": 0, "labelFont": "Noto Sans CJK SC", "titleFont": "Noto Sans CJK SC", "labelFontSize": 13.5, "titleFontSize": 13.5, "labelColor": "#595959", "titleColor": "#595959"}}
     }}
  ], "spacing": 0, "bounds": "flush", "resolve": {"scale": {"color": "independent"}, "legend": {"color": "independent"}}},
  {"hconcat": [
    {"width": 117, "height": 1, "data": {"values": []}, "mark": "point"},
    {"width": 371, "height": 1, "data": {"values": []}, "mark": "point", "view": {"fill": "#404040"}},
    {"width": 57, "height": 1, "data": {"values": []}, "mark": "point"},
    {"width": 383, "height": 1, "data": {"values": []}, "mark": "point", "view": {"fill": "#404040"}}
  ], "spacing": 0, "bounds": "flush"},
  {"width": 1, "height": 6, "data": {"values": []}, "mark": "point"},
  {"hconcat": [
    {"width": 118, "height": 18, "data": {"values": []}, "mark": "point"},
    {"width": 400, "height": 18, "data": {"values": [{"t": "数据来源：Wind，国泰海通证券研究"}]}, "mark": {"type": "text", "align": "left", "baseline": "middle", "font": "Liberation Serif, Noto Sans CJK SC", "fontSize": 15, "color": "#000000"}, "encoding": {"x": {"datum": 0, "type": "quantitative", "scale": {"domain": [0, 1]}, "axis": null}, "text": {"field": "t"}}},
    {"width": 28, "height": 18, "data": {"values": []}, "mark": "point"},
    {"width": 380, "height": 18, "data": {"values": [{"t": "数据来源：Wind，国泰海通证券研究"}]}, "mark": {"type": "text", "align": "left", "baseline": "middle", "font": "Liberation Serif, Noto Sans CJK SC", "fontSize": 15, "color": "#000000"}, "encoding": {"x": {"datum": 0, "type": "quantitative", "scale": {"domain": [0, 1]}, "axis": null}, "text": {"field": "t"}}}
  ], "spacing": 0, "bounds": "flush"},
  {"width": 1, "height": 30, "data": {"values": []}, "mark": "point"},
  {"hconcat": [
    {"width": 355, "height": 104, "data": {"values": []}, "mark": "point"},
    {"width": 574.2, "height": 104, "data": {"name": "p2"},
     "encoding": {"y": {"field": "line", "type": "ordinal", "scale": {"type": "point", "padding": 0.5}, "axis": null}},
     "layer": [
       {"mark": {"type": "text", "align": "left", "baseline": "middle", "font": "Liberation Serif, Noto Sans CJK SC", "fontSize": 17.4, "fontWeight": "bold", "color": "#000000"}, "encoding": {"x": {"datum": 0, "type": "quantitative", "scale": {"domain": [0, 33]}, "axis": null}, "text": {"field": "b"}}},
       {"mark": {"type": "text", "align": "left", "baseline": "middle", "font": "Liberation Serif, Noto Sans CJK SC", "fontSize": 17.4, "color": "#000000"}, "encoding": {"x": {"datum": 26, "type": "quantitative", "scale": {"domain": [0, 33]}, "axis": null}, "text": {"field": "r"}}},
       {"mark": {"type": "text", "align": "left", "baseline": "middle", "font": "Liberation Serif, Noto Sans CJK SC", "fontSize": 17.4, "color": "#000000"}, "encoding": {"x": {"datum": 0, "type": "quantitative", "scale": {"domain": [0, 33]}, "axis": null}, "text": {"field": "t"}}}
     ]}
  ], "spacing": 0, "bounds": "flush"},
  {"width": 1, "height": 330, "data": {"values": []}, "mark": "point"},
  {"hconcat": [
    {"width": 72, "height": 22, "data": {"values": []}, "mark": "point"},
    {"width": 400, "height": 22, "data": {"values": [{"t": "请务必阅读正文之后的免责条款部分 10 of 30"}]}, "mark": {"type": "text", "align": "left", "baseline": "middle", "font": "Liberation Serif, Noto Sans CJK SC", "fontSize": 15, "color": "#000000"}, "encoding": {"x": {"datum": 0, "type": "quantitative", "scale": {"domain": [0, 1]}, "axis": null}, "text": {"field": "t"}}}
  ], "spacing": 0, "bounds": "flush"},
  {"width": 1000, "height": 46, "data": {"values": []}, "mark": "point"}
]
}
